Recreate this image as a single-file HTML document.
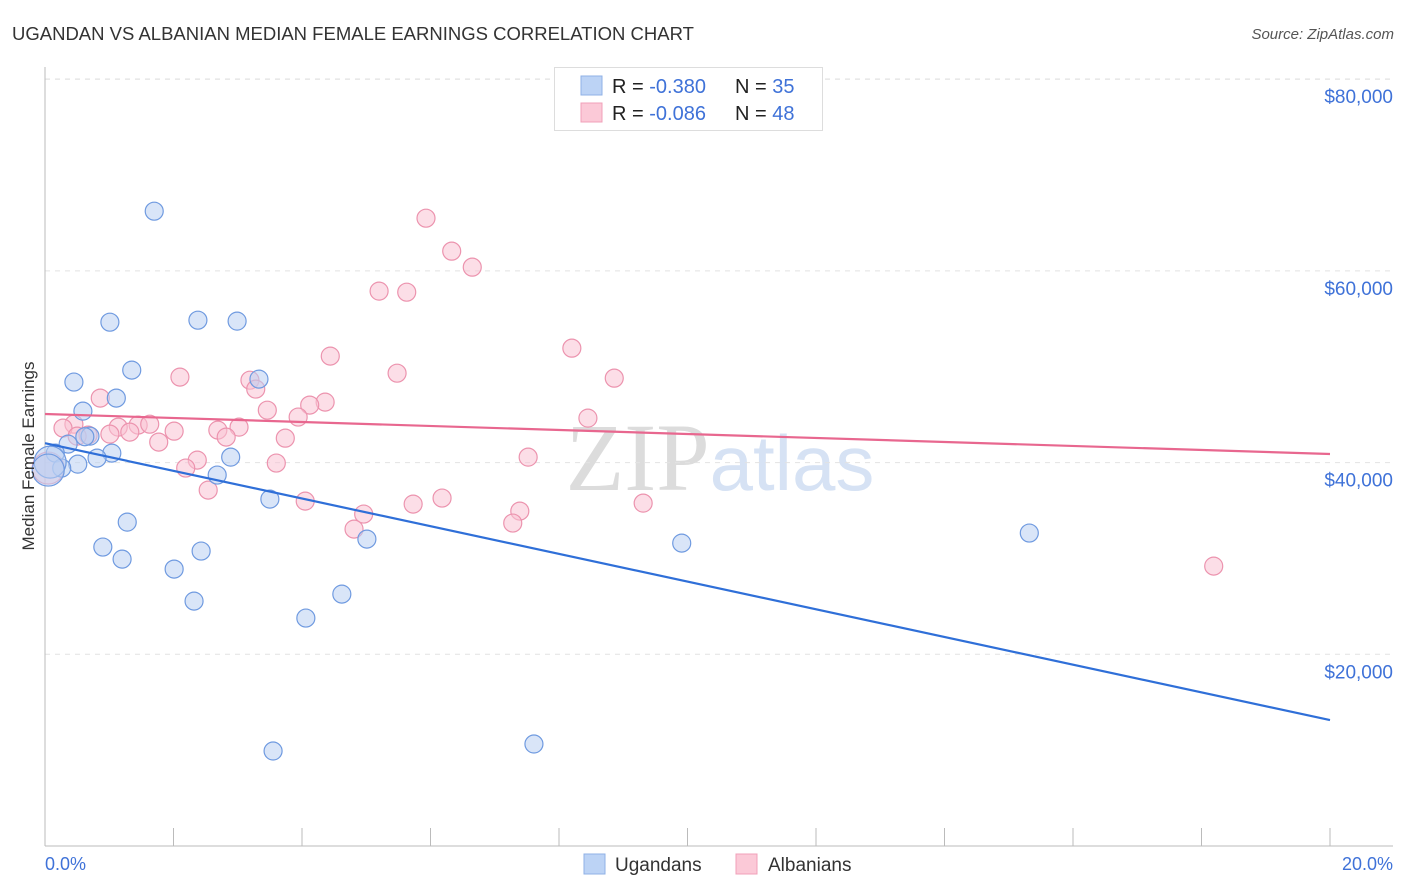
<!DOCTYPE html>
<html><head><meta charset="utf-8"><style>
body{margin:0;background:#fff;font-family:"Liberation Sans",sans-serif;}
svg{display:block}
</style></head><body>
<svg id="chart" width="1406" height="892" xmlns="http://www.w3.org/2000/svg">
<text x="12" y="40" font-size="18.5" fill="#333">UGANDAN VS ALBANIAN MEDIAN FEMALE EARNINGS CORRELATION CHART</text>
<text x="1394" y="39" font-size="15" fill="#555" text-anchor="end" font-style="italic">Source: ZipAtlas.com</text>
<text x="720" y="490" font-size="96" fill="#e4e4e4" text-anchor="middle" font-family="Liberation Serif,serif"><tspan fill="#dcdcdc">ZIP</tspan><tspan fill="#d6e2f4" font-family="Liberation Sans,sans-serif" font-size="78">atlas</tspan></text>
<g id="grid"></g>
<g id="axes"></g>
<g id="marks"></g>
<text x="34" y="456" font-size="17" fill="#333" text-anchor="middle" transform="rotate(-90 34 456)">Median Female Earnings</text>
<text x="45" y="870" font-size="18" fill="#3f72d8">0.0%</text>
<text x="1393" y="870" font-size="18" fill="#3f72d8" text-anchor="end">20.0%</text>
<g>
<rect x="554.5" y="67.5" width="268" height="63" fill="#fff" stroke="#ddd"/>
<rect x="581" y="76" width="21" height="19" fill="#bcd3f5" stroke="#8fb0e6"/>
<rect x="581" y="103" width="21" height="19" fill="#fbc9d7" stroke="#f0a0b8"/>
<text x="612" y="93" font-size="20" fill="#222">R = <tspan fill="#3f72d8">-0.380</tspan><tspan x="735">N = </tspan><tspan fill="#3f72d8">35</tspan></text>
<text x="612" y="120" font-size="20" fill="#222">R = <tspan fill="#3f72d8">-0.086</tspan><tspan x="735">N = </tspan><tspan fill="#3f72d8">48</tspan></text>
</g>
<g>
<rect x="584" y="854" width="21" height="20" fill="#bcd3f5" stroke="#8fb0e6"/>
<text x="615" y="871" font-size="19" fill="#333">Ugandans</text>
<rect x="736" y="854" width="21" height="20" fill="#fbc9d7" stroke="#f0a0b8"/>
<text x="768" y="871" font-size="19" fill="#333">Albanians</text>
</g>
</svg>
<script>
const yTicks=[20000,40000,60000,80000];
const yTickLabels=["$20,000","$40,000","$60,000","$80,000"];
const xTicks=[0,2,4,6,8,10,12,14,16,18,20];
const ugX=[1.70,1.01,2.38,2.99,1.35,0.45,3.33,1.11,0.59,0.36,0.70,0.16,1.04,0.81,0.51,0.26,0.08,2.89,2.68,3.50,1.28,0.90,1.20,2.43,2.01,2.32,5.01,4.62,4.06,3.55,7.61,9.91,15.32,0.05,0.62];
const ugY=[66230,54650,54860,54760,49650,48400,48710,46730,45370,41930,42760,40990,40990,40470,39840,39430,40050,40570,38700,36190,33790,31190,29930,30770,28890,25550,32020,26280,23780,9910,10640,31600,32650,39220,42700];
const alX=[5.93,6.33,6.65,5.20,5.63,8.20,4.44,5.48,2.10,8.86,3.19,3.28,0.86,4.36,4.12,3.46,3.94,8.45,0.45,1.45,1.63,0.28,1.14,2.01,3.02,2.69,1.32,1.01,3.74,2.82,0.67,1.77,0.50,2.37,2.19,7.52,3.60,2.54,6.18,4.05,5.73,9.31,4.96,7.39,7.28,4.81,18.19,0.05];
const alY=[65500,62060,60390,57890,57780,51940,51110,49330,48920,48810,48600,47670,46730,46310,46000,45470,44750,44640,44010,43910,44010,43600,43700,43280,43700,43390,43180,42970,42550,42660,42870,42140,42760,40260,39430,40570,39950,37130,36300,35980,35670,35770,34630,34940,33690,33060,29200,39430];
const ugTrend=[42030,13140];
const alTrend=[45070,40900];
const NS="http://www.w3.org/2000/svg";
const X=v=>45+v/20*1285;
const Y=v=>846-v/20000*191.7;
function mk(t,a,p){const e=document.createElementNS(NS,t);for(const k in a)e.setAttribute(k,a[k]);p.appendChild(e);return e;}
const gridG=document.getElementById('grid'),axesG=document.getElementById('axes'),marksG=document.getElementById('marks');
yTicks.forEach((v,i)=>{
 const l=mk('line',{x1:45,x2:1393,y1:Y(v),y2:Y(v),stroke:'#e2e2e2','stroke-dasharray':'5,5'},gridG);
 
 
 const t=mk('text',{x:1393,y:Y(v)+24,'font-size':19,fill:'#3f72d8','text-anchor':'end'},gridG);
 t.textContent=yTickLabels[i];
 
 
});
const topGrid=mk('line',{x1:45,x2:1393,y1:79,y2:79,stroke:'#e2e2e2','stroke-dasharray':'5,5'},gridG);


const ya=mk('line',{x1:45,x2:45,y1:67,y2:846,stroke:'#bbb'},axesG);


const xa=mk('line',{x1:45,x2:1393,y1:846,y2:846,stroke:'#bbb'},axesG);


xTicks.forEach(v=>{
 const t=mk('line',{x1:X(v),x2:X(v),y1:828,y2:846,stroke:'#bbb'},axesG);
 
 
});
function pts(xs,ys,fill,stroke,name){
 xs.forEach((x,i)=>{
  const big=(x<0.1);
  const c=mk('circle',{cx:X(x),cy:Y(ys[i]),r:big?16:9,fill:fill,'fill-opacity':0.55,stroke:stroke,'stroke-width':1.2},marksG);
  
  
 });
}
pts(alX,alY,'#f9c3d3','#ec93ae','albanian-point');
pts(ugX,ugY,'#b9d0f3','#6f9ae0','ugandan-point');
const tl1=mk('line',{x1:X(0),x2:X(20),y1:Y(alTrend[0]),y2:Y(alTrend[1]),stroke:'#e8678f','stroke-width':2.2},marksG);


const tl2=mk('line',{x1:X(0),x2:X(20),y1:Y(ugTrend[0]),y2:Y(ugTrend[1]),stroke:'#2f6fd8','stroke-width':2.2},marksG);


</script>
</body></html>
